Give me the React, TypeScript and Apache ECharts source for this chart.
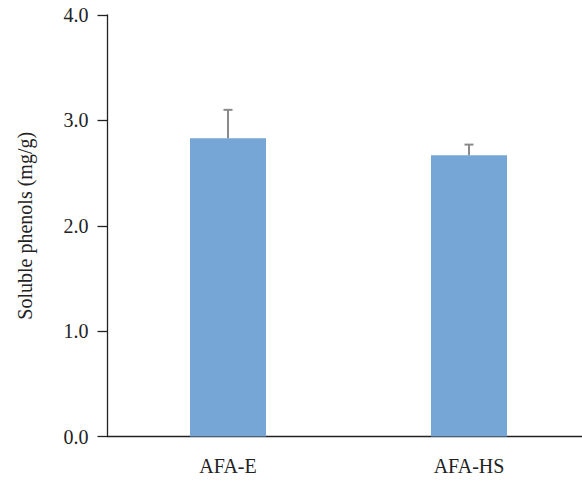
import React, { useEffect, useRef } from "react";
import * as echarts from "echarts";

const categories = ["AFA-E", "AFA-HS"];
const means = [2.83, 2.67];
const upperErrors = [3.1, 2.77];
const yTicks = [0, 1, 2, 3, 4];

export default function App() {
  const ref = useRef<HTMLDivElement>(null);
  useEffect(() => {
    if (!ref.current) return;
    const chart = echarts.init(ref.current, null, { renderer: "svg" });
    const font = "'Liberation Serif', 'Times New Roman', serif";
    chart.setOption({
      animation: false,
      backgroundColor: "#ffffff",
      grid: { left: 107.5, right: 10.5, top: 15, bottom: 44.5, containLabel: false },
      xAxis: {
        type: "category",
        data: categories,
        axisLine: { lineStyle: { color: "#222", width: 1.3 } },
        axisTick: { alignWithLabel: true, length: 9, lineStyle: { color: "#222", width: 1.3 } },
        axisLabel: { color: "#222", fontFamily: font, fontSize: 20, margin: 19 },
      },
      yAxis: {
        type: "value",
        min: yTicks[0],
        max: yTicks[yTicks.length - 1],
        interval: 1,
        name: "Soluble phenols (mg/g)",
        nameLocation: "middle",
        nameGap: 73,
        nameTextStyle: { color: "#222", fontFamily: font, fontSize: 20 },
        axisLine: { show: true, lineStyle: { color: "#222", width: 1.3 } },
        axisTick: { show: true, length: 10, lineStyle: { color: "#222", width: 1.3 } },
        splitLine: { show: false },
        axisLabel: {
          color: "#222",
          fontFamily: font,
          fontSize: 20,
          margin: 19,
          formatter: (v: number) => v.toFixed(1),
        },
      },
      series: [
        {
          type: "bar",
          data: means,
          barWidth: 76,
          itemStyle: { color: "#75a6d6" },
          z: 2,
        },
        {
          type: "custom",
          data: categories.map((_, i) => [i, means[i], upperErrors[i]]),
          z: 3,
          renderItem: (params: any, api: any) => {
            const x = api.value(0);
            const lo = api.coord([x, api.value(1)]);
            const hi = api.coord([x, api.value(2)]);
            const cap = 4.5;
            const style = { stroke: "#8a8a8a", lineWidth: 2 };
            return {
              type: "group",
              children: [
                { type: "line", shape: { x1: lo[0], y1: lo[1], x2: hi[0], y2: hi[1] }, style },
                { type: "line", shape: { x1: hi[0] - cap, y1: hi[1], x2: hi[0] + cap, y2: hi[1] }, style },
              ],
            };
          },
        },
      ],
    });
    return () => chart.dispose();
  }, []);
  return (
    <div
      style={{ position: "absolute", left: 0, top: 0, width: 582, height: 481, overflow: "hidden" }}
    >
      <div ref={ref} style={{ width: 600, height: 481 }} />
    </div>
  );
}
